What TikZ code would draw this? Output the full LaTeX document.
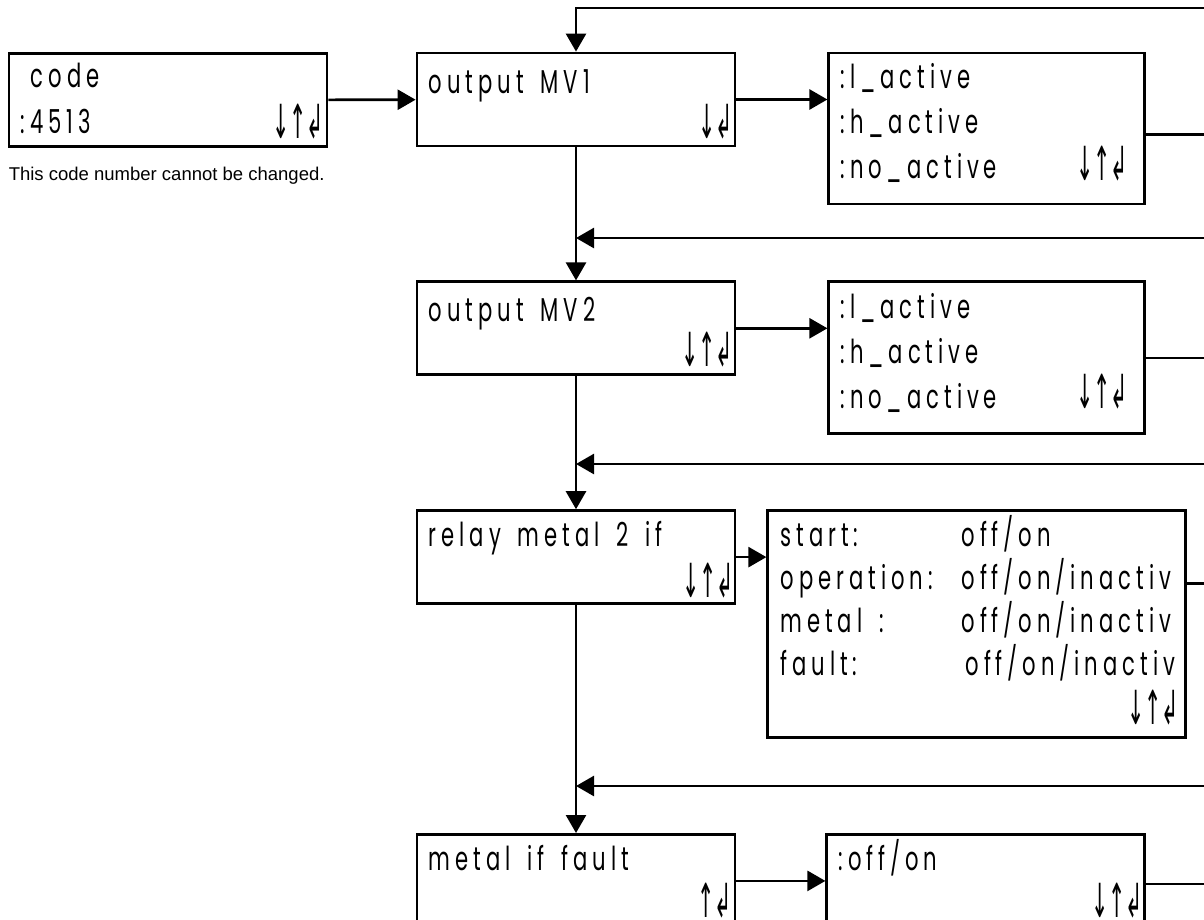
\documentclass[tikz,border=0pt]{standalone}
\usepackage{fontspec}
\setmainfont{Liberation Sans}
\newfontfamily\lcdfont[FakeStretch=0.64,LetterSpace=15,WordSpace=1.6]{Poppins}
\newfontfamily\keyfont[FakeStretch=0.44]{DejaVu Sans}
\usetikzlibrary{arrows.meta, positioning}
\tikzset{
  box/.style={rectangle, draw=black, line width=2.8pt,
    minimum width=318pt, minimum height=93pt, inner sep=0pt},
  lcd/.style={font=\lcdfont\fontsize{33}{45}\selectfont,
    align=left, inner sep=0pt, anchor=base west},
  keys/.style={font=\keyfont\fontsize{47}{47}\selectfont,
    inner sep=0pt, anchor=south east},
  arrow/.style={-{Triangle[length=18pt,width=20pt]}, line width=2.6pt},
  line/.style={line width=2.6pt}
}

\begin{document}
\begin{tikzpicture}[x=1pt, y=-1pt]
  \useasboundingbox (0,0) rectangle (1204,919);

  % left column
  \node[box] (code) at (168,100) {};
  \node[box] (mv1) at (576,99.5) {};
  \node[box, below=133pt of mv1] (mv2) {};
  \node[box, below=133pt of mv2] (relay) {};
  \node[box, below=228pt of relay] (mif) {};

  % right column
  \node[box, minimum width=316pt, minimum height=151pt,
    right=91pt of mv1.north east, anchor=north west] (r1) {};
  \node[box, minimum width=316pt, minimum height=152pt,
    right=91pt of mv2.north east, anchor=north west] (r2) {};
  \node[box, minimum width=418pt, minimum height=227pt,
    right=30pt of relay.north east, anchor=north west] (r3) {};
  \node[box, right=89pt of mif.north east, anchor=north west] (off) {};

  % texts (base west = baseline of the last line)
  \node[lcd, font=\lcdfont\fontsize{33}{46}\selectfont] (codet)
    at ([shift={(13pt,-81pt)}]code.north west) {\hspace*{10pt}code\\:4513};
  \node[lcd] (mv1t) at ([shift={(13pt,-42pt)}]mv1.north west) {output MV1};
  \node[lcd] (mv2t) at ([shift={(13pt,-41pt)}]mv2.north west) {output MV2};
  \node[lcd] (relayt) at ([shift={(13pt,-37pt)}]relay.north west) {relay metal 2 if};
  \node[lcd] (mift) at ([shift={(13pt,-37pt)}]mif.north west) {metal if fault};
  \node[lcd] (r1t) at ([shift={(13pt,-127pt)}]r1.north west)
    {:l\_active\\:h\_active\\:no\_active};
  \node[lcd] (r2t) at ([shift={(13pt,-128pt)}]r2.north west)
    {:l\_active\\:h\_active\\:no\_active};
  \node[lcd, font=\lcdfont\fontsize{33}{43}\selectfont] (r3t)
    at ([shift={(14pt,-166pt)}]r3.north west)
    {\makebox[181pt][l]{start:}off/on\\
     \makebox[181pt][l]{operation:}off/on/inactiv\\
     \makebox[181pt][l]{metal :}off/on/inactiv\\
     \makebox[185pt][l]{fault:}off/on/inactiv};
  \node[lcd] (offt) at ([shift={(13pt,-37pt)}]off.north west) {:off/on};
  \node[font=\fontsize{18.5}{20}\selectfont, anchor=base west, inner sep=0pt]
    (note) at ([shift={(1pt,-33pt)}]code.south west)
    {This code number cannot be changed.};

  % key symbols
  \node[keys] (codek) at ([shift={(-4pt,9pt)}]code.south east) {↓↑↲};
  \node[keys] (mv1k) at ([shift={(-3pt,8pt)}]mv1.south east) {↓↲};
  \node[keys] (mv2k) at ([shift={(-3pt,9pt)}]mv2.south east) {↓↑↲};
  \node[keys] (relayk) at ([shift={(-2pt,7pt)}]relay.south east) {↓↑↲};
  \node[keys] (mifk) at ([shift={(-4pt,10pt)}]mif.south east) {↑↲};
  \node[keys] (r1k) at ([shift={(-18pt,24pt)}]r1.south east) {↓↑↲};
  \node[keys] (r2k) at ([shift={(-18pt,26pt)}]r2.south east) {↓↑↲};
  \node[keys] (r3k) at ([shift={(-8pt,14pt)}]r3.south east) {↓↑↲};
  \node[keys] (offk) at ([shift={(-3pt,10pt)}]off.south east) {↓↑↲};

  % loop ends at the right edge
  \coordinate (top) at (1204,8);
  \coordinate (back1) at (1204,238);
  \coordinate (back2) at (1204,464);
  \coordinate (back3) at (1204,786);

  \draw[arrow] (code) -- (mv1);
  \draw[arrow] (mv1.east) -- (mv1.east -| r1.west);
  \draw[arrow] (mv2.east) -- (mv2.east -| r2.west);
  \draw[arrow] (relay.east) -- (relay.east -| r3.west);
  \draw[arrow] (mif.east) -- (mif.east -| off.west);

  \draw[arrow] (mv1) -- (mv2);
  \draw[arrow] (mv2) -- (relay);
  \draw[arrow] (relay) -- (mif);

  \draw[line] ([yshift=-6pt]r1.east) -- ++(90,0);
  \draw[line] (r2.east) -- (r2.east -| top);
  \draw[line] ([yshift=-74pt]r3.north east) -- ++(40,0);
  \draw[line] ([yshift=-3pt]off.east) -- ++(80,0);

  \draw[arrow] (top) -| (mv1.north);
  \draw[arrow] (back1) -- (back1 -| mv1.south);
  \draw[arrow] (back2) -- (back2 -| mv2.south);
  \draw[arrow] (back3) -- (back3 -| relay.south);
\end{tikzpicture}
\end{document}
